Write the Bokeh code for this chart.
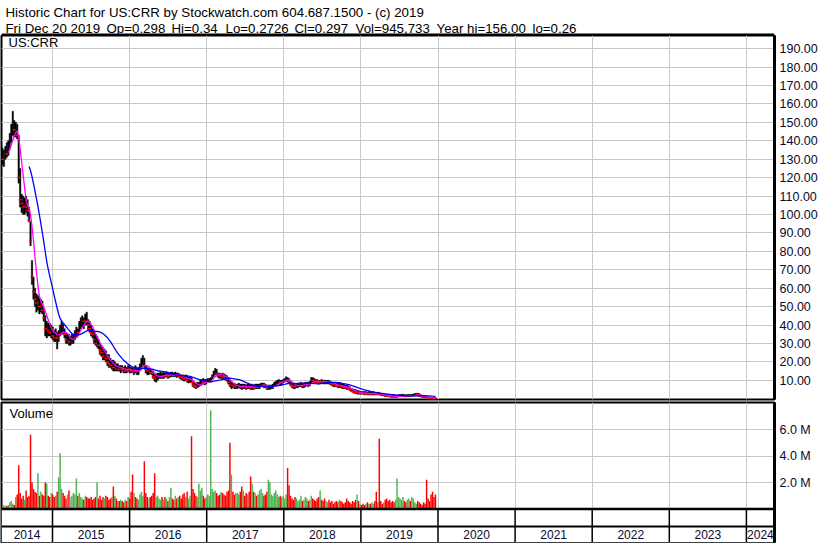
import pandas as pd
from bokeh.plotting import figure
from bokeh.layouts import column
from bokeh.models import (Range1d, FixedTicker, LinearAxis, Span, Label, Grid,
                          ColumnDataSource, PrintfTickFormatter)
from bokeh.embed import file_html
from bokeh.resources import INLINE
from bokeh.core.properties import value

# ---------------- data (weekly) ----------------
LAST_DATE = "2019-12-20"

high = [
138,136,135,137,139,140,144,149,156,151,
150,149,143,125,111,110,109,110,108,104,
96,75,66,60,57,56,55,54,53,49,
45,42,41,41,40,39,37,38,36,37,
40,42,41,38,36,35,35,34,35,35,
37,39,38,42,44,45,44,46,47,43,
42,40,38,37,35,34,32,30,29,28,
27,26,24,24,22,21,21,20,19,19,
18,18,18,17,18,17,18,18,17,17,
17,18,17,17,19,22,23.5,22,18,17,
16.5,16.5,16,15,14,13.5,14,14,14.5,14,
14.5,14,14.5,14,14,14.5,14.5,14,14.5,14,
14,13.5,13,13,12.5,13,12.5,12,12,11.5,
9.5,9,8.5,9,9,10,10.5,11,10.5,10.5,
11,11,11.5,13,15,16.5,16,14,14,13.5,
14,13.5,13,12.5,11.5,10,9,8.5,8.5,8,
8,8.5,8,8,8,8,7.5,8,8,7.5,
8,7.5,8,8,8,8,8.5,8.5,8.5,8,
7.5,7.5,7.5,7.5,8,9,9.5,10,10.5,10,
10,10.5,11,12,11.5,11,9.5,8.5,8,8.5,
8,8.5,8.5,9,8.5,8.5,9,9,9,9.5,
11.5,11.5,11,10.5,10.5,10,10,10.5,10,10,
10,10,10,9.5,9,9,8.5,9,8.5,8.5,
8.5,8,8,7.5,7.5,7,6.5,5.5,5.5,5,
5,4.5,4.5,4,4,4,4,4,3.5,4,
3.5,3.5,4,3.5,3.5,3.5,3.5,3,3,3,
2.5,2.5,2.2,2,2,2,1.8,1.8,2,2.2,
2.3,2.4,2.5,2.3,2.2,2.3,2.4,2.3,2.5,2.6,
2.8,3,3,2.8,2.2,1.6,1.5,1.4,1.2,1,0.9,0.8,0.7,0.6,0.34]

low = [
128,127,126,130,131,132,136,139,143,142,
142,141,117,104,101,100,100,101,99,96,
83,62,54,50,47,48,46,47,46,42,
34,33,34,34,33,32,31,31,27,31,
34,35,35,33,30,30,29,29,30,30,
32,33,34,36,38,39,38,40,40,37,
36,34,33,30,29,28,27,24,23,21,
21,20,18,17,17,16,15,15,15,15,
15,14,15,14,14,14,15,14,14,14,
13,14,13,13,15,17,18,17,14,13,
13,13.5,13,11,9.5,9,10,11,11,11,
11,11.5,12,11,11.5,12,12,12,12,11.5,
12,11,10.5,10,9.5,10,9,8.5,9,8.5,
6.5,6,5.5,6,6.5,7,7.5,8,7.5,8,
9,9,9,10.5,12,13,12.5,11.5,11,11,
11,10.5,10,9.5,8,6.5,5.5,6,5.5,5.5,
5.5,6,5.5,5,5.5,5.5,5,5.5,5.5,5,
5,5,5.5,5.5,5.5,5.5,6.5,6.5,6,6,
5,5,5,5.5,5.5,7,7,7.5,8,7.5,
7.5,8.5,9,9.5,9,8.5,7,6,5.5,5.5,
6,6,6.5,6.5,6,6,6.5,7,6.5,7,
8.5,9,8.5,8.5,8.5,8,8,8.5,8,8,
8,8,8,7.5,7,6.5,6.5,6.5,6,6,
6,5.5,5.5,5.5,5,5,4.5,4,3.5,3,
3,2.5,2.5,2.5,2.5,2.5,2,2.5,2,2,
2,2,2,2,2,2,2,1.8,1.5,1.5,
1.2,1.2,1,0.9,0.8,0.8,0.7,0.7,0.8,1,
1.1,1.2,1.2,1.1,1,1.1,1.2,1.2,1.3,1.3,
1.5,1.6,1.5,1.3,1,0.8,0.7,0.6,0.5,0.45,0.35,0.3,0.28,0.27,0.2726]

close = [
133,130,133,135,133,138,142,146,148,146,
147,143,120,108,106,104,106,104,102,97,
86,66,58,54,52,53,50,51,48,44,
38,39,37,36,38,34,33,35,33,35,
38,39,36,35,32,33,31,31,32,34,
35,37,36,40,41,43,42,44,42,40,
38,36,35,32,30,31,29,26,25,23,
24,22,20,19,18,19,17,18,16,17,
16,17,16,15,16,15,17,16,15,14.5,
15.5,15,14.8,16,18,20,21,18,16,15,
15,14.2,13.8,12,11,11.3,12,13,13.4,12,
13,12.5,13.5,12,13,13.5,13,12.8,13.5,12.5,
13,12,11.5,11,10.8,11.5,10,10.2,10.5,9,
7.5,7,6.5,7.5,8,9,9.5,9,8.8,9.5,
9.8,10,10.5,12.5,14,15,13.5,13,12.5,13,
12,11.8,11,10.5,9,7.5,7.8,7,6.5,6.7,
7,7.2,6.5,6.3,7,6.5,6,7,6.5,6,
6.5,6,7,6.5,7,7.2,7.5,8,7.5,7,
6,6.3,6.5,6.7,7,8,8.5,9,9.5,9,
9.2,10,10.5,11,10,9.5,7.5,7,6.8,6.5,
7,7.5,7.7,8,7,7.5,8,8.2,7.5,8.5,
10.5,10,9.6,9.4,9.1,9,9.5,9.3,9.1,8.9,
9.1,9.4,9,8.5,8,7.6,7.4,7.1,6.9,7.3,
7,6.6,6.4,6.1,5.9,5.5,5,4.5,4,3.6,
3.2,3.4,3.0,3.3,3.1,2.9,2.8,3.0,2.6,2.9,
2.6,2.9,3.1,2.7,2.5,2.7,2.4,2.3,2.0,2.1,
1.8,1.6,1.5,1.3,1.2,1.15,1.0,1.1,1.3,1.5,
1.6,1.7,1.8,1.55,1.5,1.6,1.8,1.7,1.9,2.0,
2.2,2.4,2.2,1.8,1.3,1.1,1.0,0.9,0.8,0.6,0.5,0.45,0.4,0.32,0.297]

volume_m = [
0.2,0.15,0.3,0.2,0.25,0.3,0.5,0.6,0.4,0.3,
0.9,1.1,3.3,1.2,0.8,1.0,0.7,1.4,0.9,1.0,
5.6,2.0,1.5,1.3,1.2,2.7,1.0,1.3,1.1,1.0,
2.0,1.9,1.0,0.9,1.2,1.1,0.9,1.0,1.3,2.4,
4.2,1.5,1.2,1.0,0.8,1.1,1.4,0.9,1.0,1.2,
1.1,2.3,1.0,1.2,0.9,0.8,0.7,1.0,0.9,0.8,
0.8,0.9,0.7,0.8,0.9,2.0,0.8,1.0,0.7,0.9,
0.8,1.0,0.9,0.7,0.8,0.9,1.7,1.0,0.8,0.6,
0.6,0.7,0.6,0.5,0.7,0.6,0.9,0.8,1.3,2.6,
1.2,0.9,0.8,0.7,1.1,1.3,1.0,3.6,1.2,0.9,
0.8,0.9,1.0,1.2,2.7,0.9,1.0,0.8,0.7,0.9,
0.7,0.9,0.8,0.6,0.9,1.6,0.8,0.7,1.0,0.8,
0.9,1.0,0.8,1.1,1.2,0.9,1.3,0.8,1.0,5.5,
1.5,1.2,1.0,0.9,1.9,1.4,1.6,1.0,0.8,0.9,
1.1,1.0,7.45,1.5,1.3,1.4,1.2,1.0,1.1,1.3,
1.2,1.1,1.0,1.3,1.4,5.0,2.6,1.3,1.1,1.2,
1.2,1.1,1.3,1.7,1.4,1.0,1.2,1.1,1.3,2.45,
1.9,1.3,1.2,1.0,1.1,1.4,1.5,1.2,1.0,1.1,
1.3,2.2,2.0,1.1,1.0,1.2,1.4,1.1,0.9,1.0,
0.9,1.0,0.8,1.1,3.1,1.8,1.0,0.8,0.7,0.9,
0.8,0.6,0.7,1.0,0.6,0.7,0.9,0.8,0.6,0.7,
1.0,0.8,0.7,0.6,0.8,0.9,1.4,0.7,0.6,0.8,
0.6,0.5,0.7,0.5,0.6,0.4,0.5,0.6,0.5,0.7,
0.6,0.5,0.4,0.5,0.8,0.6,0.5,0.4,0.6,0.5,
0.7,1.1,0.6,0.4,0.3,0.4,0.3,0.4,0.5,0.4,
0.4,0.5,0.4,0.6,1.3,0.5,5.3,0.6,0.4,0.5,
0.7,0.8,0.6,0.7,0.5,0.6,0.5,0.7,2.3,0.9,
0.8,0.7,0.9,0.6,0.5,0.7,0.8,0.6,0.9,0.8,
0.5,0.4,0.6,0.5,0.4,0.3,0.5,0.4,2.2,0.8,0.6,1.1,1.3,0.9,1.1]

price_ticks = [10, 20, 30, 40, 50, 60, 70, 80, 90, 100,
               110, 120, 130, 140, 150, 160, 170, 180, 190]
volume_ticks = [2, 4, 6]
year_bounds = [2015, 2016, 2017, 2018, 2019, 2020, 2021, 2022, 2023, 2024]
year_labels = ["2014", "2015", "2016", "2017", "2018", "2019",
               "2020", "2021", "2022", "2023", "2024"]

header_line1 = "Historic Chart for US:CRR by Stockwatch.com 604.687.1500 - (c) 2019"
header_line2 = ["Fri Dec 20 2019", "Op=0.298", "Hi=0.34", "Lo=0.2726",
                "Cl=0.297", "Vol=945,733", "Year hi=156.00", "lo=0.26"]
symbol = "US:CRR"

FAST_MA = 6   # weeks
SLOW_MA = 20  # weeks

# ---------------- derived ----------------
dates = pd.date_range(end=LAST_DATE, periods=len(close), freq="7D")


def frac_year(d):
    s = pd.Timestamp(year=d.year, month=1, day=1)
    e = pd.Timestamp(year=d.year + 1, month=1, day=1)
    return d.year + (d - s) / (e - s)


xs = [frac_year(d) for d in dates]
cl_series = pd.Series(close, dtype=float)
ma_fast = cl_series.rolling(FAST_MA).mean().tolist()
ma_slow = cl_series.rolling(SLOW_MA).mean().tolist()

GREEN, RED, GRAY = "#50b450", "#ff0000", "#a8a8a8"
vcolors = []
for i, c in enumerate(close):
    if i == 0 or c > close[i - 1]:
        vcolors.append(GREEN)
    elif c < close[i - 1]:
        vcolors.append(RED)
    else:
        vcolors.append(GRAY)
down_x = [xs[i] for i in range(1, len(close)) if close[i] < close[i - 1]]
down_y = [close[i] for i in range(1, len(close)) if close[i] < close[i - 1]]

src = ColumnDataSource(dict(x=xs, hi=high, lo=low, cl=close,
                            maf=ma_fast, mas=ma_slow, vol=volume_m, vc=vcolors))

# ---------------- styling ----------------
W = 830
FW = 773
RB = 56
FONT = "Liberation Sans"
LABEL_COLOR = "#0a0a2e"
GRID_COLOR = "#c8c8c8"
BAR_W = 7 / 365.25
X0 = 2014.3385
X1 = X0 + FW / 77.1
xr = Range1d(X0, X1)

# ---------------- header ----------------
HH = 35
hdr = figure(width=W, height=HH, x_range=Range1d(0, W), y_range=Range1d(0, HH),
             output_backend="svg", toolbar_location=None,
             x_axis_location=None, y_axis_location=None, min_border=0)
hdr.grid.visible = False
hdr.outline_line_color = None
hdr.add_layout(Label(x=4, y=HH - 12.3, x_units="screen", y_units="screen",
                     text=header_line1, text_font=FONT, text_font_size="13.3px",
                     text_color="black", text_baseline="alphabetic"))
h2x = [4, 105, 170, 224, 293, 354, 435, 531]
for hx, piece in zip(h2x, header_line2):
    hdr.add_layout(Label(x=hx, y=HH - 27.7, x_units="screen", y_units="screen",
                         text=piece, text_font=FONT, text_font_size="13.3px",
                         text_color="black", text_baseline="alphabetic"))
hdr.add_layout(Span(location=1, dimension="width", line_color="black", line_width=2))


def make_axis(ticks, fmt):
    ax = LinearAxis(ticker=FixedTicker(ticks=ticks), formatter=PrintfTickFormatter(format=fmt))
    ax.major_tick_line_color = None
    ax.minor_tick_line_color = None
    ax.major_tick_out = 0
    ax.major_tick_in = 0
    ax.axis_line_color = "black"
    ax.axis_line_width = 3
    ax.major_label_text_font = FONT
    ax.major_label_text_font_size = "12.5px"
    ax.major_label_text_color = LABEL_COLOR
    ax.major_label_standoff = 5
    return ax


# ---------------- price panel ----------------
PFH = 364
price = figure(frame_width=FW, frame_height=PFH, x_range=xr, y_range=Range1d(-0.4, 197.1),
               output_backend="svg", toolbar_location=None,
               x_axis_location=None, y_axis_location=None,
               min_border_left=1, min_border_right=RB, min_border_top=0, min_border_bottom=2)
price.grid.visible = False
price.outline_line_color = "black"
price.outline_line_width = 2
price.add_layout(Grid(dimension=0, ticker=FixedTicker(ticks=year_bounds),
                      grid_line_color=GRID_COLOR, grid_line_width=1))
price.add_layout(Grid(dimension=1, ticker=FixedTicker(ticks=price_ticks),
                      grid_line_color=GRID_COLOR, grid_line_width=1))
price.add_layout(make_axis(price_ticks, "%.2f"), "right")

price.vbar(x="x", top="hi", bottom="lo", width=BAR_W, source=src,
           fill_color="black", line_color="black", line_width=0.4)
price.scatter(x=down_x, y=down_y, marker="dash", size=3, line_color=RED, line_width=1.5)
price.line(x="x", y="maf", source=src, line_color="#ff00ff", line_width=1.3)
price.line(x="x", y="mas", source=src, line_color="#0000ff", line_width=1.3)
price.add_layout(Label(x=7, y=PFH - 7, x_units="screen", y_units="screen", text=symbol,
                       text_font=FONT, text_font_size="13px", text_color="black",
                       text_baseline="middle"))

# ---------------- volume panel + date rows ----------------
VFH = 140
VB = -2.53          # bottom of date rows (volume units)
VT = 8.04
ROW_SPLIT = -1.32   # line between blank row and year row
YEAR_Y = -1.92
vol = figure(frame_width=FW, frame_height=VFH, x_range=xr, y_range=Range1d(VB, VT),
             output_backend="svg", toolbar_location=None,
             x_axis_location=None, y_axis_location=None,
             min_border_left=1, min_border_right=RB, min_border_top=1, min_border_bottom=1)
vol.grid.visible = False
vol.outline_line_color = "black"
vol.outline_line_width = 2
vol.add_layout(Grid(dimension=0, ticker=FixedTicker(ticks=year_bounds),
                    grid_line_color=GRID_COLOR, grid_line_width=1))
vol.add_layout(Grid(dimension=1, ticker=FixedTicker(ticks=volume_ticks),
                    grid_line_color=GRID_COLOR, grid_line_width=1))
vol.add_layout(make_axis(volume_ticks, "%.1f M"), "right")

vol.vbar(x="x", top="vol", bottom=0, width=BAR_W, source=src,
         fill_color="vc", line_color=None)

# date rows
vol.quad(left=X0, right=X1, bottom=VB, top=0, fill_color="white", line_color=None)
vol.segment(x0=year_bounds, y0=[VB] * len(year_bounds), x1=year_bounds, y1=[0] * len(year_bounds),
            line_color="black", line_width=1.5)
vol.add_layout(Span(location=0, dimension="width", line_color="black", line_width=2.5))
vol.add_layout(Span(location=ROW_SPLIT, dimension="width", line_color="black", line_width=2))
label_x = []
for lab in year_labels:
    y0 = int(lab)
    label_x.append((max(y0, X0) + min(y0 + 1, X1)) / 2)
vol.text(x=label_x, y=[YEAR_Y] * len(label_x), text=year_labels, text_font=value(FONT),
         text_font_size="12px", text_color=LABEL_COLOR,
         text_align="center", text_baseline="middle")
vol.add_layout(Label(x=8, y=VFH - 11, x_units="screen", y_units="screen", text="Volume",
                     text_font=FONT, text_font_size="13px", text_color="black",
                     text_baseline="middle"))

layout = column(hdr, price, vol, spacing=0)
open("out.html", "w").write(file_html(layout, INLINE))
